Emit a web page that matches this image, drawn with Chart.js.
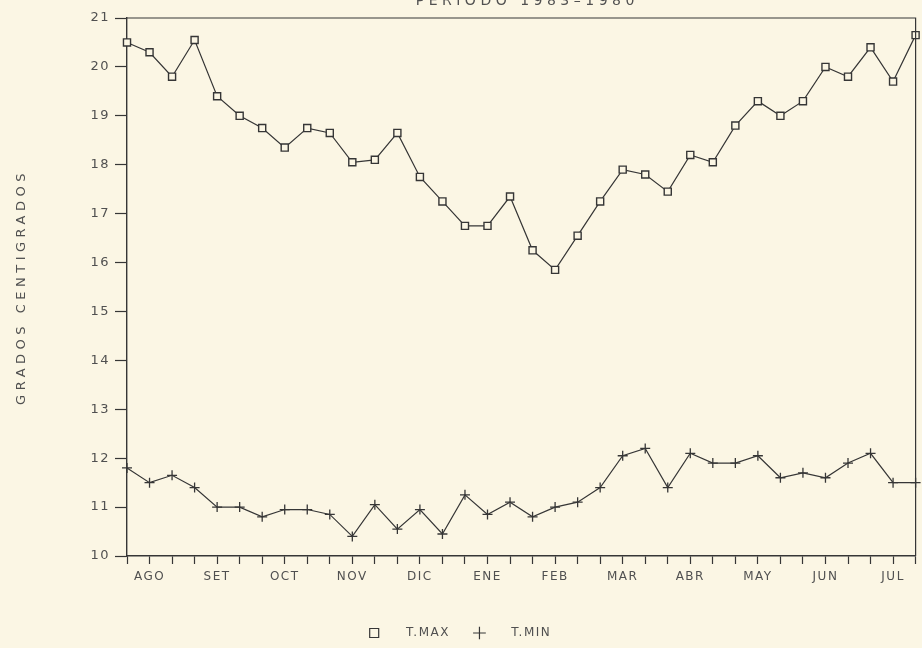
<!DOCTYPE html>
<html>
<head>
<meta charset="utf-8">
<script src="https://cdn.jsdelivr.net/npm/chart.js@4/dist/chart.umd.min.js"></script>
<style>
  html, body { margin: 0; padding: 0; background: #fbf6e4; }
  #wrap { width: 922px; height: 648px; }
</style>
</head>
<body>
<div id="wrap"><canvas id="grafico"></canvas></div>
<script>
// dekads (3 per month), Aug to Jul
var months = ['AGO', 'SET', 'OCT', 'NOV', 'DIC', 'ENE', 'FEB', 'MAR', 'ABR', 'MAY', 'JUN', 'JUL'];
var tMax = [20.5, 20.3, 19.8, 20.55, 19.4, 19.0, 18.75, 18.35, 18.75, 18.65, 18.05, 18.1,
            18.65, 17.75, 17.25, 16.75, 16.75, 17.35, 16.25, 15.85, 16.55, 17.25, 17.9, 17.8,
            17.45, 18.2, 18.05, 18.8, 19.3, 19.0, 19.3, 20.0, 19.8, 20.4, 19.7, 20.65];
var tMin = [11.8, 11.5, 11.65, 11.4, 11.0, 11.0, 10.8, 10.95, 10.95, 10.85, 10.4, 11.05,
            10.55, 10.95, 10.45, 11.25, 10.85, 11.1, 10.8, 11.0, 11.1, 11.4, 12.05, 12.2,
            11.4, 12.1, 11.9, 11.9, 12.05, 11.6, 11.7, 11.6, 11.9, 12.1, 11.5, 11.5];
var yTicks = [10, 11, 12, 13, 14, 15, 16, 17, 18, 19, 20, 21];

var labels = [];
for (var i = 0; i < months.length * 3; i++) {
  labels.push(i % 3 == 1 ? months[(i - 1) / 3] : '');
}

var ink = '#363636';
var textInk = '#505050';
var paper = '#fbf6e4';
var fontFam = "'DejaVu Sans', sans-serif";

// plotter-style spaced lettering
function spacing(chart) { chart.ctx.letterSpacing = '1.5px'; }

var marco = {
  id: 'marco',
  beforeUpdate: spacing,
  beforeDraw: spacing,
  afterDraw: function(chart) {
    var c = chart.ctx, a = chart.chartArea;
    c.save();
    c.strokeStyle = ink;
    c.lineWidth = 1.2;
    c.beginPath();
    c.moveTo(a.left, a.top);
    c.lineTo(a.right, a.top);
    c.lineTo(a.right, a.bottom);
    c.stroke();
    c.fillStyle = textInk;
    c.textAlign = 'center';
    c.textBaseline = 'alphabetic';
    c.font = '14px ' + fontFam;
    c.letterSpacing = '4.5px';
    c.fillText('PERIODO 1983\u20131980', (a.left + a.right) / 2 + 6, 5);
    // y axis title
    c.translate(22, (a.top + a.bottom) / 2);
    c.rotate(-Math.PI / 2);
    c.textBaseline = 'middle';
    c.font = '13px ' + fontFam;
    c.letterSpacing = '4.5px';
    c.fillText('GRADOS CENTIGRADOS', 0, 0);
    c.restore();
  }
};

var ctx = document.getElementById('grafico');
var chart = new Chart(ctx, {
  type: 'line',
  data: {
    labels: labels,
    datasets: [{
      label: 'T.MAX',
      data: tMax,
      borderColor: ink,
      borderWidth: 1.2,
      backgroundColor: paper,
      pointStyle: 'rect',
      pointRadius: 5,
      pointBorderWidth: 1.4,
      pointBorderColor: ink,
      pointBackgroundColor: paper,
      tension: 0
    }, {
      label: 'T.MIN',
      data: tMin,
      borderColor: ink,
      borderWidth: 1.2,
      backgroundColor: ink,
      pointStyle: 'cross',
      pointRadius: 5,
      pointBorderWidth: 1.3,
      pointBorderColor: ink,
      tension: 0
    }]
  },
  options: {
    responsive: true,
    maintainAspectRatio: false,
    animation: false,
    layout: { padding: { top: 18, right: 1, left: 0, bottom: 0 } },
    plugins: {
      legend: {
        position: 'bottom',
        maxHeight: 46,
        labels: {
          usePointStyle: true,
          color: textInk,
          font: { family: fontFam, size: 12 },
          padding: 25,
          boxWidth: 9,
          boxHeight: 9,
          generateLabels: function(chart) {
            var items = Chart.defaults.plugins.legend.labels.generateLabels(chart);
            items.forEach(function(it) {
              it.text = '    ' + it.text;
              it.fillStyle = paper;
              it.lineWidth = 1.2;
            });
            return items;
          }
        }
      },
      tooltip: { enabled: false },
      title: { display: false }
    },
    scales: {
      x: {
        offset: false,
        grid: { drawOnChartArea: false, color: ink, tickLength: 8, tickWidth: 1.2 },
        border: { color: ink, width: 1.4 },
        ticks: {
          autoSkip: false,
          maxRotation: 0,
          color: textInk,
          padding: 6,
          font: { family: fontFam, size: 12 }
        },
        afterFit: function(s) { s.height = 46; }
      },
      y: {
        min: 10,
        max: 21,
        afterBuildTicks: function(s) { s.ticks = yTicks.map(function(v) { return { value: v }; }); },
        grid: { drawOnChartArea: false, color: ink, tickLength: 12, tickWidth: 1.2 },
        border: { color: ink, width: 1.4 },
        ticks: {
          color: textInk,
          padding: 5,
          font: { family: fontFam, size: 13 }
        },
        afterFit: function(s) { s.width = 127; }
      }
    }
  },
  plugins: [marco]
});
</script>
</body>
</html>
